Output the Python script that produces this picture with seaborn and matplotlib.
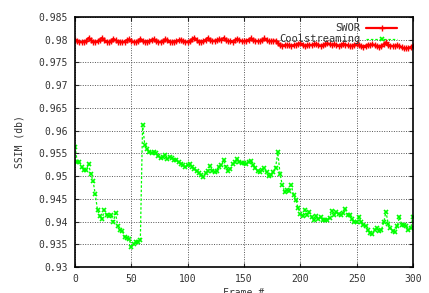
import numpy as np
import pandas as pd
import matplotlib
matplotlib.use("Agg")
import matplotlib.pyplot as plt
import seaborn as sns

# frame index, one sample every 2 frames
frames = np.arange(0, 301, 2)

swor = [
    0.9800, 0.9798, 0.9796, 0.9795, 0.9796, 0.9798, 0.9804, 0.9799, 0.9796, 0.9795,
    0.9797, 0.9800, 0.9804, 0.9799, 0.9796, 0.9795, 0.9797, 0.9802, 0.9799, 0.9796,
    0.9795, 0.9795, 0.9796, 0.9799, 0.9801, 0.9797, 0.9795, 0.9795, 0.9797, 0.9802,
    0.9798, 0.9795, 0.9796, 0.9797, 0.9800, 0.9801, 0.9798, 0.9795, 0.9795, 0.9797,
    0.9801, 0.9799, 0.9796, 0.9795, 0.9796, 0.9797, 0.9799, 0.9800, 0.9797, 0.9796,
    0.9795, 0.9797, 0.9801, 0.9804, 0.9799, 0.9796, 0.9796, 0.9797, 0.9800, 0.9804,
    0.9799, 0.9797, 0.9798, 0.9799, 0.9801, 0.9800, 0.9804, 0.9799, 0.9797, 0.9797,
    0.9796, 0.9799, 0.9802, 0.9799, 0.9797, 0.9797, 0.9798, 0.9800, 0.9803, 0.9799,
    0.9798, 0.9797, 0.9797, 0.9799, 0.9803, 0.9799, 0.9797, 0.9797, 0.9798, 0.9798,
    0.9792, 0.9788, 0.9787, 0.9788, 0.9789, 0.9788, 0.9787, 0.9788, 0.9789, 0.9791,
    0.9792, 0.9789, 0.9787, 0.9788, 0.9789, 0.9788, 0.9790, 0.9791, 0.9788, 0.9787,
    0.9788, 0.9790, 0.9792, 0.9790, 0.9789, 0.9790, 0.9789, 0.9787, 0.9789, 0.9791,
    0.9789, 0.9788, 0.9786, 0.9787, 0.9789, 0.9790, 0.9788, 0.9786, 0.9785, 0.9787,
    0.9789, 0.9788, 0.9790, 0.9788, 0.9786, 0.9785, 0.9787, 0.9790, 0.9794, 0.9789,
    0.9787, 0.9786, 0.9787, 0.9788, 0.9786, 0.9783, 0.9781, 0.9781, 0.9782, 0.9784,
    0.9787,
]

coolstreaming = [
    0.9565, 0.9532, 0.9530, 0.9520, 0.9514, 0.9513, 0.9527, 0.9505, 0.9490, 0.9460,
    0.9425, 0.9412, 0.9405, 0.9425, 0.9415, 0.9412, 0.9415, 0.9400, 0.9418, 0.9390,
    0.9381, 0.9380, 0.9365, 0.9363, 0.9362, 0.9345, 0.9350, 0.9356, 0.9356, 0.9360,
    0.9613, 0.9568, 0.9560, 0.9552, 0.9550, 0.9553, 0.9550, 0.9545, 0.9539, 0.9542,
    0.9546, 0.9537, 0.9543, 0.9540, 0.9535, 0.9536, 0.9530, 0.9527, 0.9524, 0.9520,
    0.9524, 0.9527, 0.9520, 0.9516, 0.9512, 0.9507, 0.9503, 0.9499, 0.9506, 0.9512,
    0.9522, 0.9512, 0.9508, 0.9512, 0.9520, 0.9525, 0.9535, 0.9520, 0.9512, 0.9515,
    0.9527, 0.9530, 0.9538, 0.9530, 0.9528, 0.9529, 0.9527, 0.9532, 0.9534, 0.9525,
    0.9518, 0.9512, 0.9510, 0.9514, 0.9518, 0.9508, 0.9500, 0.9503, 0.9510, 0.9518,
    0.9552, 0.9505, 0.9480, 0.9466, 0.9470, 0.9468, 0.9480, 0.9458, 0.9448, 0.9430,
    0.9417, 0.9413, 0.9425, 0.9415, 0.9420, 0.9410, 0.9403, 0.9412, 0.9405, 0.9410,
    0.9404, 0.9403, 0.9404, 0.9408, 0.9424, 0.9415, 0.9420, 0.9417, 0.9414, 0.9418,
    0.9428, 0.9415, 0.9414, 0.9405, 0.9400, 0.9398, 0.9410, 0.9398, 0.9393, 0.9390,
    0.9381, 0.9375, 0.9372, 0.9382, 0.9385, 0.9380, 0.9382, 0.9398, 0.9422, 0.9395,
    0.9385, 0.9380, 0.9378, 0.9390, 0.9410, 0.9392, 0.9392, 0.9390, 0.9381, 0.9386,
    0.9410,
]

x_ticks = [0, 50, 100, 150, 200, 250, 300]
y_ticks = [0.93, 0.935, 0.94, 0.945, 0.95, 0.955, 0.96, 0.965, 0.97, 0.975, 0.98, 0.985]
y_labels = ["0.93", "0.935", "0.94", "0.945", "0.95", "0.955", "0.96",
            "0.965", "0.97", "0.975", "0.98", "0.985"]

sns.set_style("ticks")
plt.rcParams['font.family'] = ['DejaVu Sans Mono', 'DejaVu Sans']

fig = plt.figure(figsize=(4.29, 2.93), dpi=100)
ax = fig.add_axes([0.1748, 0.0887, 0.7879, 0.8533])

sns.lineplot(x=frames, y=swor, ax=ax, color='#ff0000', linewidth=1.6,
             marker='+', markersize=4, markeredgewidth=1.0,
             markeredgecolor='#ff0000', label='SWOR')
sns.lineplot(x=frames, y=coolstreaming, ax=ax, color='#00ff00', linewidth=0.9,
             linestyle=(0, (2, 1.5)), marker='x', markersize=3.5, markeredgewidth=1.2,
             markeredgecolor='#00ff00', label='Coolstreaming')

ax.set_xlim(0, 300)
ax.set_ylim(0.93, 0.985)
ax.set_xticks(x_ticks)
ax.set_xticklabels([str(t) for t in x_ticks], fontsize=7, color='#333333')
ax.set_yticks(y_ticks)
ax.set_yticklabels(y_labels, fontsize=7, color='#333333')
ax.tick_params(direction='in', length=3, width=0.8, top=True, right=True, pad=5)

ax.grid(True, color='#555555', linestyle=(0, (1, 1.5)), linewidth=0.7)
for s in ax.spines.values():
    s.set_linewidth(1.2)
    s.set_color('black')

ax.set_xlabel('Frame #', fontsize=7, color='#333333', labelpad=3)
ax.set_ylabel('SSIM (db)', fontsize=7, color='#333333', labelpad=10)

leg = ax.legend(loc='upper right', bbox_to_anchor=(0.97, 1.0), frameon=False,
                markerfirst=False, fontsize=7.5, handlelength=2.9,
                labelspacing=0.1, borderaxespad=0.2, handletextpad=0.6)
for t in leg.get_texts():
    t.set_ha('right')
    t.set_color('#333333')

fig.savefig('out.png', dpi=100)
